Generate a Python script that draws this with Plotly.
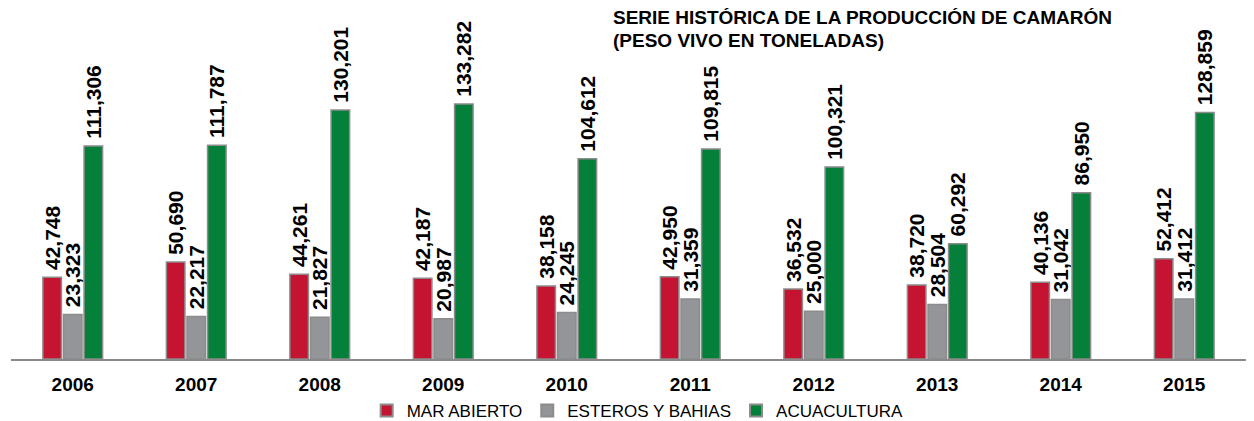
import plotly.graph_objects as go

years = ["2006", "2007", "2008", "2009", "2010", "2011", "2012", "2013", "2014", "2015"]
mar_abierto = [42748, 50690, 44261, 42187, 38158, 42950, 36532, 38720, 40136, 52412]
esteros_bahias = [23323, 22217, 21827, 20987, 24245, 31359, 25000, 28504, 31042, 31412]
acuacultura = [111306, 111787, 130201, 133282, 104612, 109815, 100321, 60292, 86950, 128859]

series = [
    ("MAR ABIERTO", mar_abierto, "#C41432"),
    ("ESTEROS Y BAHIAS", esteros_bahias, "#939598"),
    ("ACUACULTURA", acuacultura, "#05803A"),
]

title_lines = ["SERIE HISTÓRICA DE LA PRODUCCIÓN DE CAMARÓN", "(PESO VIVO EN TONELADAS)"]

# the page body adds an 8px margin, so the figure is sized to fill the rest of the window
W, H = 1246, 413
ml, mr, mt, mb = 3, 8, 0, 62
plot_w = W - ml - mr
plot_h = H - mt - mb
# 133,282 sits 255 px above the baseline
ymax = plot_h / 255 * 133282

fig = go.Figure()
for name, vals, color in series:
    fig.add_trace(go.Bar(
        x=years, y=vals, name=name,
        marker=dict(color=color, line=dict(color="#8C8C8C", width=1.5)),
        text=["\u2009" + f"{v:,}" for v in vals],
        textposition="outside",
        textangle=-90,
        constraintext="none",
        cliponaxis=False,
        textfont=dict(family="Liberation Sans, Arial, sans-serif", size=21, color="#000000", weight="bold"),
    ))

annotations = []
for i, line in enumerate(title_lines):
    top_px = -3 + i * 23
    annotations.append(dict(
        text="<b>" + line + "</b>",
        xref="paper", yref="paper", x=(603 - ml) / plot_w, y=1 - top_px / plot_h,
        xanchor="left", yanchor="top", align="left", showarrow=False,
        font=dict(size=19, color="#000000"),
    ))

fig.update_layout(
    width=W, height=H,
    margin=dict(l=ml, r=mr, t=mt, b=mb, autoexpand=False),
    paper_bgcolor="white", plot_bgcolor="white",
    barmode="group", bargap=0.5, bargroupgap=0.1,
    font=dict(family="Liberation Sans, Arial, sans-serif", color="#000000"),
    showlegend=True,
    legend=dict(
        orientation="h", x=0.288, xanchor="left",
        yref="container", y=(H - 385) / H, yanchor="top",
        font=dict(size=17, color="#000000"),
        itemsizing="constant", traceorder="normal",
        bgcolor="rgba(0,0,0,0)",
    ),
    xaxis=dict(
        showline=True, linecolor="#8A8A8A", linewidth=2,
        showgrid=False, zeroline=False, ticks="", automargin=False,
        ticklabelstandoff=7,
        tickfont=dict(size=19, color="#000000", weight="bold"),
    ),
    yaxis=dict(
        range=[0, ymax], visible=False, showgrid=False, zeroline=False,
        automargin=False,
    ),
    annotations=annotations,
)

fig.write_html("out.html")
